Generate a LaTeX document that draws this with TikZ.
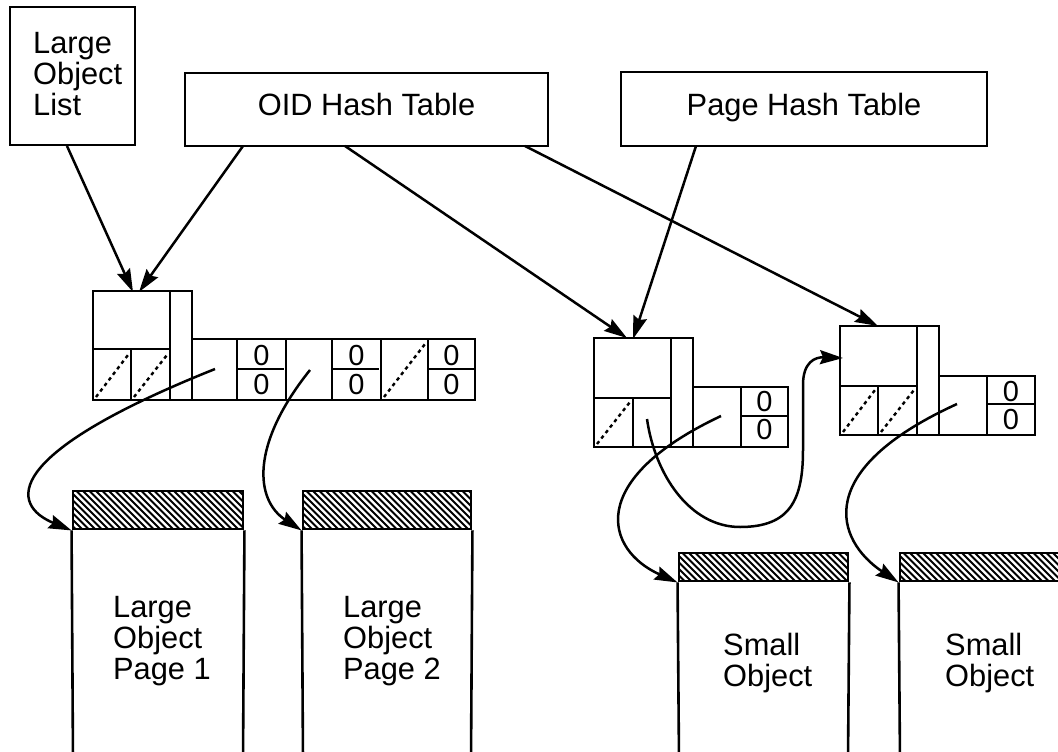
\documentclass[tikz,border=0pt]{standalone}
\usepackage{fontspec}
\setmainfont{Liberation Sans}
\usetikzlibrary{arrows.meta}

\tikzset{
  box/.style={draw, line width=2.9pt, inner sep=0pt},
  edge/.style={line width=2.6pt},
  ptr/.style={line width=2.5pt, -{Stealth[length=23pt,width=14pt,inset=3pt]}},
  nullptr/.style={line width=2.4pt, dash pattern=on 3.5pt off 3.5pt},
  lbl/.style={font=\fontsize{30.8}{31}\selectfont, inner sep=0pt, align=left},
  lblone/.style={font=\fontsize{30.8}{31}\selectfont, inner sep=0pt},
  digit/.style={font=\fontsize{29}{29}\selectfont, inner sep=0pt},
  hatchline/.style={line width=1.8pt},
}

% diagonal hatching inside the rectangle (#1,#2)-(#3,#4)
\newcommand\hatchband[4]{%
  \begin{scope}
    \clip (#1,#2) rectangle (#3,#4);
    \foreach \k in {0,...,36} {
      \draw[hatchline] ({#1-42+6.5*\k},#2) -- ++(46,46);
    }
  \end{scope}}

\begin{document}
\begin{tikzpicture}[x=1pt,y=-1pt]
\useasboundingbox (0,0) rectangle (1058,752);

% ---------- top level tables ----------
\node[box, minimum width=125pt, minimum height=138pt] (lol) at (72.5,76) {};
\node[lbl, anchor=north west] (lolT) at (33,32) {Large\\Object\\List};
\node[box, minimum width=363pt, minimum height=73pt] (oid) at (366.5,109.5) {};
\node[lblone, anchor=base] (oidT) at (366.5,115) {OID Hash Table};
\node[box, minimum width=366pt, minimum height=74pt] (pht) at (804,109) {};
\node[lblone, anchor=base] (phtT) at (804,115) {Page Hash Table};

% ---------- large object descriptor ----------
\node[box, minimum width=99pt, minimum height=109pt] (s1) at (142.5,345.5) {};
\draw[edge] (170,291) -- (170,400);
\draw[edge] (93,349) -- (170,349);
\draw[edge] (131,349) -- (131,400);
\node[box, minimum width=283pt, minimum height=61pt] (s1row) at (333.5,369.5) {};
\foreach \x in {237,286,332,381,428} \draw[edge] (\x,339) -- (\x,400);
\foreach \x in {237,332,428} \draw[edge] (\x,369) -- ({\x+47},369);
\node[digit] (s1za) at (261.5,356) {0};
\node[digit] (s1zb) at (261.5,385) {0};
\node[digit] (s1zc) at (356.5,356) {0};
\node[digit] (s1zd) at (356.5,385) {0};
\node[digit] (s1ze) at (451.5,356) {0};
\node[digit] (s1zf) at (451.5,385) {0};
\draw[nullptr] (96,397) -- (128,355);
\draw[nullptr] (134,397) -- (167,355);
\draw[nullptr] (384,397) -- (425,344);

% ---------- first small object descriptor ----------
\node[box, minimum width=99pt, minimum height=109pt] (s2) at (643.5,392.5) {};
\draw[edge] (671,338) -- (671,447);
\draw[edge] (594,398) -- (671,398);
\draw[edge] (633,398) -- (633,447);
\node[box, minimum width=95pt, minimum height=60pt] (s2row) at (740.5,417) {};
\draw[edge] (741,387) -- (741,447);
\draw[edge] (741,416) -- (788,416);
\node[digit] (s2za) at (764.5,401.5) {0};
\node[digit] (s2zb) at (764.5,430) {0};
\draw[nullptr] (597,444) -- (630,402);

% ---------- second small object descriptor ----------
\node[box, minimum width=99pt, minimum height=109pt] (s3) at (889.5,380.5) {};
\draw[edge] (917,326) -- (917,435);
\draw[edge] (840,386) -- (917,386);
\draw[edge] (878,386) -- (878,435);
\node[box, minimum width=96pt, minimum height=59pt] (s3row) at (987,405.5) {};
\draw[edge] (987,376) -- (987,435);
\draw[edge] (987,404) -- (1035,404);
\node[digit] (s3za) at (1011,392) {0};
\node[digit] (s3zb) at (1011,419.5) {0};
\draw[nullptr] (843,432) -- (875,390);
\draw[nullptr] (881,432) -- (914,390);

% ---------- pages ----------
\hatchband{73}{491}{243}{529}
\node[box, minimum width=170pt, minimum height=38pt] (p1h) at (158,510) {};
\draw[edge] (p1h.south west) -- (73,760) (p1h.south east) -- (243,760);
\node[lbl, anchor=north west] (p1T) at (113,596) {Large\\Object\\Page 1};

\hatchband{303}{491}{471}{529}
\node[box, minimum width=168pt, minimum height=38pt] (p2h) at (387,510) {};
\draw[edge] (p2h.south west) -- (303,760) (p2h.south east) -- (471,760);
\node[lbl, anchor=north west] (p2T) at (343,596) {Large\\Object\\Page 2};

\hatchband{679}{553}{848}{581}
\node[box, minimum width=169pt, minimum height=28pt] (q1h) at (763.5,567) {};
\draw[edge] (q1h.south west) -- (679,760) (q1h.south east) -- (848,760);
\node[lbl, anchor=north west] (q1T) at (723,633) {Small\\Object};

\hatchband{900}{553}{1070}{581}
\node[box, minimum width=170pt, minimum height=28pt] (q2h) at (985,567) {};
\draw[edge] (q2h.south west) -- (900,760);
\node[lbl, anchor=north west] (q2T) at (945,633) {Small\\Object};

% ---------- attachment points ----------
\coordinate (lolOut) at (67,146);
\coordinate (oidOutA) at (243,146);
\coordinate (oidOutB) at (345,146);
\coordinate (oidOutC) at (525,146);
\coordinate (phtOut) at (696,146);
\coordinate (s1inA) at (133,292);
\coordinate (s1inB) at (139,292);
\coordinate (s2inA) at (627,338);
\coordinate (s2inB) at (633,339);
\coordinate (s3in) at (878,326);
\coordinate (s3side) at (843,358);
\coordinate (s1pA) at (215,369);
\coordinate (s1pB) at (310,370);
\coordinate (s2pA) at (647,419);
\coordinate (s2pB) at (721,416);
\coordinate (s3p) at (957,404);

% ---------- pointers ----------
\draw[ptr] (lolOut) -- (s1inA);
\draw[ptr] (oidOutA) -- (s1inB);
\draw[ptr] (oidOutB) -- (s2inA);
\draw[ptr] (phtOut) -- (s2inB);
\draw[ptr] (oidOutC) -- (s3in);

\draw[ptr] (s1pA) .. controls (0,455) and (10,505) .. (p1h.south west);
\draw[ptr] (s1pB) .. controls (250,445) and (255,500) .. (p2h.south west);
\draw[ptr] (s2pB) .. controls (585,480) and (605,550) .. (q1h.south west);
\draw[ptr] (s3p) .. controls (812,470) and (835,540) .. (q2h.south west);
\draw[ptr] (s2pA) .. controls (655,475) and (690,527) .. (740,527)
  .. controls (790,527) and (803,500) .. (803,450) -- (803,385)
  .. controls (803,362) and (815,357) .. (s3side);

\end{tikzpicture}
\end{document}
